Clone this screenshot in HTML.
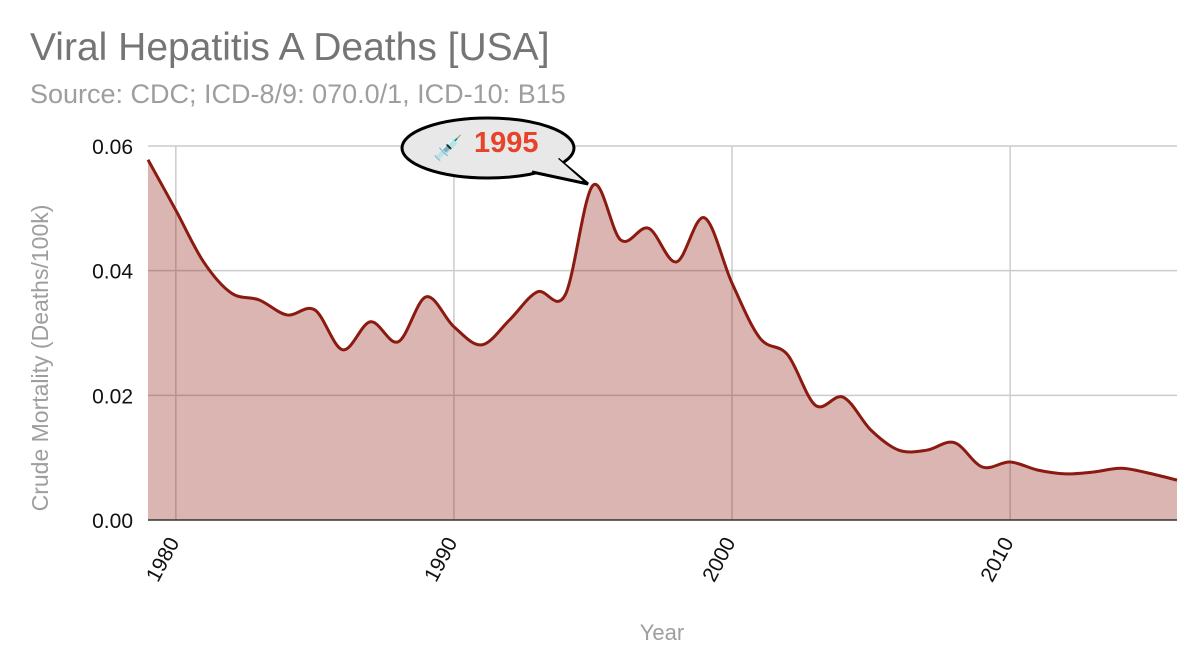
<!DOCTYPE html>
<html><head><meta charset="utf-8"><style>
body{margin:0;background:#fff;}
svg{display:block;font-family:"Liberation Sans",Arial,sans-serif;}
</style></head><body>
<svg id="chart" width="1200" height="670">
<text x="30" y="60" font-size="39" fill="#757575">Viral Hepatitis A Deaths [USA]</text>
<text x="30" y="103" font-size="27" fill="#9e9e9e">Source: CDC; ICD-8/9: 070.0/1, ICD-10: B15</text>
<g id="grid"></g>
<g id="series"></g>
<g id="axes"></g>
<text transform="translate(48,358) rotate(-90)" text-anchor="middle" font-size="23" fill="#9e9e9e">Crude Mortality (Deaths/100k)</text>
<text x="662" y="640" text-anchor="middle" font-size="22" fill="#9e9e9e">Year</text>
<g>
<ellipse cx="488" cy="148" rx="86" ry="30" fill="#e8e8e8" stroke="#000" stroke-width="3"/>
<path d="M532,172 L588,184 L558,159" fill="#e8e8e8" stroke="#000" stroke-width="3" stroke-linejoin="miter"/>
<path d="M528,169 L583,181 L556,157 Z" fill="#e8e8e8"/>
<text x="433" y="156" font-size="24">💉</text>
<text x="474" y="152" font-size="29" font-weight="bold" fill="#e8432a">1995</text>
</g>
</svg>
<script>
const years=[];for(let y=1979;y<=2016;y++)years.push(y);
const values=[0.0578,0.0497,0.0414,0.0364,0.0353,0.0329,0.0337,0.0273,0.0318,0.0286,0.0358,0.031,0.0281,0.0321,0.0366,0.0361,0.0537,0.0449,0.0468,0.0414,0.0485,0.038,0.0292,0.0265,0.0184,0.0197,0.0144,0.0112,0.0112,0.0124,0.0085,0.0093,0.008,0.0074,0.0077,0.0083,0.0075,0.0064];
const yTicks=[0,0.02,0.04,0.06];
const yTickLabels=["0.00","0.02","0.04","0.06"];
const xTicks=[1980,1990,2000,2010];
const NS="http://www.w3.org/2000/svg";
const X0=148,X1=1177,Y0=520,Y1=146;
const xs=v=>X0+(v-1979)/(2016-1979)*(X1-X0);
const ys=v=>Y0-(v/0.06)*(Y0-Y1);
function mk(tag,attrs,parent){const e=document.createElementNS(NS,tag);for(const k in attrs)e.setAttribute(k,attrs[k]);parent.appendChild(e);return e;}
const grid=document.getElementById('grid'),axes=document.getElementById('axes'),ser=document.getElementById('series');
yTicks.forEach((t,i)=>{
 if(t>0){const l=mk('line',{x1:X0,x2:X1,y1:ys(t),y2:ys(t),stroke:'#ccc','stroke-width':1.5},grid);
 
 }
 const tx=mk('text',{x:133,y:ys(t)+8,'text-anchor':'end','font-size':21,fill:'#111'},axes);tx.textContent=yTickLabels[i];
 
 
});
xTicks.forEach(t=>{
 const l=mk('line',{x1:xs(t),x2:xs(t),y1:Y1,y2:Y0,stroke:'#ccc','stroke-width':1.5},grid);
 
 
 const tx=mk('text',{transform:`translate(${xs(t)+4},${Y0+22}) rotate(-62)`,'text-anchor':'end','font-size':21,fill:'#111'},axes);tx.textContent=t;
 
 
});
const pts=years.map((y,i)=>[xs(y),ys(values[i])]);
let d=`M${pts[0][0]},${pts[0][1]}`;
for(let i=0;i<pts.length-1;i++){
 const p0=pts[Math.max(0,i-1)],p1=pts[i],p2=pts[i+1],p3=pts[Math.min(pts.length-1,i+2)];
 const c1=[p1[0]+(p2[0]-p0[0])/6,p1[1]+(p2[1]-p0[1])/6],c2=[p2[0]-(p3[0]-p1[0])/6,p2[1]-(p3[1]-p1[1])/6];
 d+=` C${c1[0]},${c1[1]} ${c2[0]},${c2[1]} ${p2[0]},${p2[1]}`;
}
const area=mk('path',{d:d+` L${pts[pts.length-1][0]},${Y0} L${pts[0][0]},${Y0} Z`,fill:'#8b1a10','fill-opacity':0.32},ser);


const line=mk('path',{d:d,fill:'none',stroke:'#8b1a10','stroke-width':3},ser);


const base=mk('line',{x1:X0,x2:X1,y1:Y0,y2:Y0,stroke:'#333','stroke-width':1.5},axes);


</script>
</body></html>
